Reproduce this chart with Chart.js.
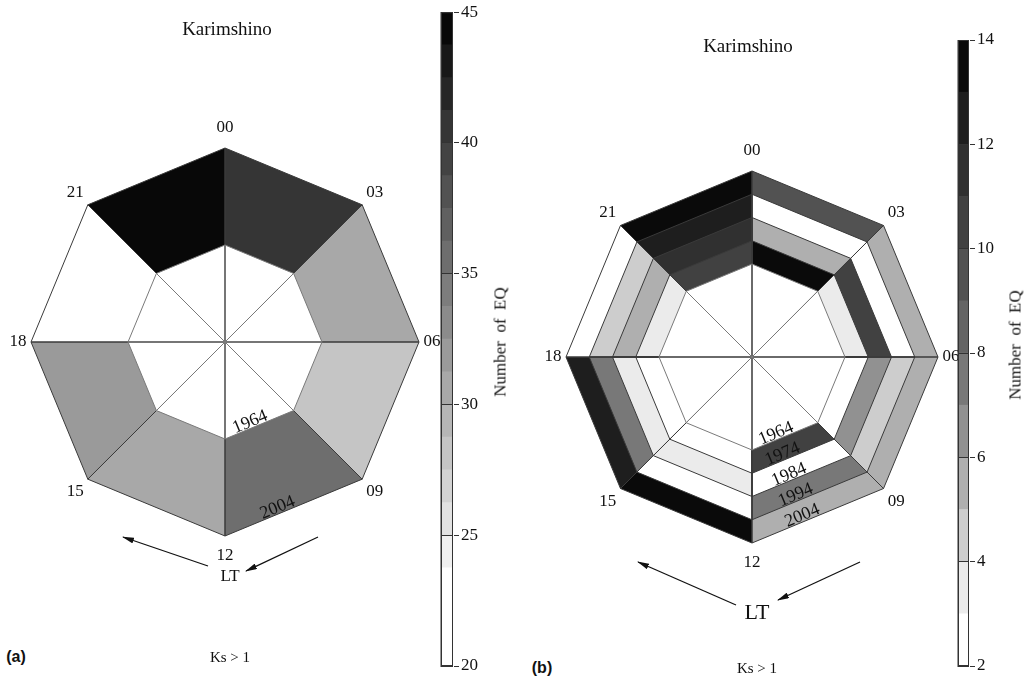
<!DOCTYPE html>
<html>
<head>
<meta charset="utf-8">
<script src="https://cdn.jsdelivr.net/npm/chart.js@4.4.0/dist/chart.umd.min.js"></script>
<style>
  body { margin: 0; background: #fff; }
  #page { position: relative; width: 1029px; height: 681px; overflow: hidden; font-family: "Liberation Serif", serif; color: #111; }
  #page canvas, #page svg, #page .lbl { position: absolute; }
  .lbl { white-space: pre; transform: translate(-50%, -50%); line-height: 1; }
  .side { transform: translate(-50%, -50%) rotate(-90deg); }
  .tag { font-family: "Liberation Sans", sans-serif; font-weight: bold; }
</style>
</head>
<body>
<div id="page">
  <canvas id="polarA" width="450" height="600" style="left:0;top:0"></canvas>
  <canvas id="polarB" width="460" height="600" style="left:520px;top:0"></canvas>
  <canvas id="barA" width="80" height="681" style="left:440px;top:0"></canvas>
  <canvas id="barB" width="70" height="681" style="left:957px;top:0"></canvas>

  <div class="lbl" style="left:227px;top:28px;font-size:19px">Karimshino</div>
  <div class="lbl" style="left:748px;top:45px;font-size:19px">Karimshino</div>
  <div class="lbl side" style="left:500px;top:342px;font-size:17px">Number  of  EQ</div>
  <div class="lbl side" style="left:1015px;top:345px;font-size:17px">Number  of  EQ</div>
  <div class="lbl" style="left:230px;top:575px;font-size:17px">LT</div>
  <div class="lbl" style="left:757px;top:612px;font-size:22px">LT</div>
  <div class="lbl" style="left:230px;top:657px;font-size:15px">Ks &gt; 1</div>
  <div class="lbl" style="left:757px;top:668px;font-size:15px">Ks &gt; 1</div>
  <div class="lbl tag" style="left:16px;top:657px;font-size:16px">(a)</div>
  <div class="lbl tag" style="left:542px;top:668px;font-size:16px">(b)</div>

  <svg width="1029" height="681" style="left:0;top:0" viewBox="0 0 1029 681">
    <defs>
      <marker id="head" viewBox="0 0 12 6" refX="11" refY="3" markerWidth="12" markerHeight="6" markerUnits="userSpaceOnUse" orient="auto">
        <path d="M0,0 L12,3 L0,6 Z" fill="#111"/>
      </marker>
    </defs>
    <g stroke="#111" stroke-width="1.3" marker-end="url(#head)">
      <line x1="208" y1="566" x2="123" y2="537"/>
      <line x1="318" y1="537" x2="246" y2="571"/>
      <line x1="736" y1="605" x2="638" y2="562"/>
      <line x1="860" y1="562" x2="778" y2="600"/>
    </g>
  </svg>
</div>

<script>
  // local time sectors, clockwise from the top
  const hours = ["00", "03", "06", "09", "12", "15", "18", "21"];
  const yearStart = 1924;   // value at the centre of the octagon

  // (a) one ring, 1964-2004; one count per sector 00-03, 03-06, ... 21-00
  const yearsA = [1964, 2004];
  const countsA = [40.6, 30.6, 28.1, 35.6, 30.6, 31.9, 21, 44.4];

  // (b) decade rings
  const yearsB = [1964, 1974, 1984, 1994, 2004];
  const counts1964 = [13.5, 3.5, 2.5, 10.5, 2.5, 2.5, 3.5, 10.5];
  const counts1974 = [5.5, 10.5, 6.5, 2.5, 3.5, 3.5, 5.5, 11.5];
  const counts1984 = [2.5, 2.5, 4.5, 7.5, 2.5, 7.5, 4.5, 12.5];
  const counts1994 = [9.5, 5.5, 5.5, 5.5, 13.5, 12.5, 2.5, 13.5];

  // colour bar levels and tick labels
  const levelsA = [20, 21.25, 22.5, 23.75, 25, 26.25, 27.5, 28.75, 30, 31.25, 32.5, 33.75, 35, 36.25, 37.5, 38.75, 40, 41.25, 42.5, 43.75, 45];
  const ticksA = [20, 25, 30, 35, 40, 45];
  const levelsB = [2, 3, 4, 5, 6, 7, 8, 9, 10, 11, 12, 13, 14];
  const ticksB = [2, 4, 6, 8, 10, 12, 14];

  // grey shade of each level (style only)
  const greysA = [255, 255, 255, 240, 226, 211, 197, 182, 168, 154, 139, 125, 110, 96, 82, 67, 53, 38, 24, 8];
  const greysB = [255, 235, 205, 175, 145, 120, 100, 82, 65, 48, 30, 10];

  const grey = g => `rgb(${g},${g},${g})`;

  function shadeOf(v, levels, greys) {
    let k = levels.findIndex((lo, i) => v >= lo && v < levels[i + 1]);
    if (k < 0) k = greys.length - 1;
    return grey(greys[k]);
  }

  // one wedge from the centre out to value r between spokes i and i+1
  function wedge(i, r, fillColor, lineColor) {
    return {
      data: hours.map((h, k) => (k === i || k === (i + 1) % hours.length) ? r : yearStart),
      fill: "origin",
      backgroundColor: fillColor,
      borderColor: lineColor,
      borderWidth: 1,
      pointRadius: 0,
      pointHitRadius: 0
    };
  }

  // inner rings first so they are painted over the outer ones
  function cellSets(years, rings, levels, greys) {
    const sets = hours.map((h, i) => wedge(i, years[0], "#fff", "#7a7a7a"));
    rings.forEach((counts, j) => {
      counts.forEach((v, i) => sets.push(wedge(i, years[j + 1], shadeOf(v, levels, greys), "#3a3a3a")));
    });
    return sets;
  }

  const ringLabels = {
    id: "ringLabels",
    afterDraw(chart, args, opts) {
      const s = chart.scales.r;
      const ctx = chart.ctx;
      ctx.save();
      ctx.fillStyle = "#111";
      ctx.textAlign = "center";
      ctx.textBaseline = "middle";
      ctx.font = opts.hourFont;
      hours.forEach((h, i) => {
        const a = Math.PI * i / 4;
        const p = s.getPointPosition(i, s.drawingArea + 13 + 7 * Math.abs(Math.cos(a)));
        ctx.fillText(h, p.x, p.y);
      });
      ctx.font = opts.yearFont;
      ctx.textBaseline = "bottom";
      opts.years.forEach(y => {
        const p0 = s.getPointPositionForValue(4, y);
        const p1 = s.getPointPositionForValue(3, y);
        ctx.save();
        ctx.translate(p0.x + (p1.x - p0.x) * 0.4, p0.y + (p1.y - p0.y) * 0.4);
        ctx.rotate(Math.atan2(p1.y - p0.y, p1.x - p0.x));
        ctx.fillText(String(y), 0, 3);
        ctx.restore();
      });
      ctx.restore();
    }
  };

  function octagon(id, years, rings, levels, greys, padding, fonts) {
    new Chart(document.getElementById(id), {
      type: "radar",
      data: { labels: hours, datasets: cellSets(years, rings, levels, greys) },
      options: {
        responsive: false,
        animation: false,
        layout: { padding },
        plugins: {
          legend: { display: false },
          tooltip: { enabled: false },
          filler: { drawTime: "beforeDatasetsDraw" },
          ringLabels: { years, hourFont: fonts.hour, yearFont: fonts.year }
        },
        scales: {
          r: {
            min: yearStart,
            max: years[years.length - 1],
            ticks: { display: false },
            pointLabels: { display: false },
            grid: { display: false },
            angleLines: { display: false }
          }
        }
      },
      plugins: [ringLabels]
    });
  }

  const frame = {
    id: "frame",
    afterDraw(chart) {
      const a = chart.chartArea, ctx = chart.ctx;
      ctx.save();
      ctx.strokeStyle = "#333";
      ctx.lineWidth = 1;
      ctx.strokeRect(a.left + 0.5, a.top + 0.5, a.width - 1, a.height - 1);
      ctx.restore();
    }
  };

  function colorBar(id, levels, greys, ticks, padding, axisWidth) {
    new Chart(document.getElementById(id), {
      type: "bar",
      data: {
        labels: [""],
        datasets: greys.map((g, k) => ({
          data: [[levels[k], levels[k + 1]]],
          backgroundColor: grey(g),
          borderWidth: 0,
          barPercentage: 1,
          categoryPercentage: 1,
          grouped: false
        }))
      },
      options: {
        responsive: false,
        animation: false,
        layout: { padding },
        plugins: { legend: { display: false }, tooltip: { enabled: false } },
        scales: {
          x: { display: false },
          y: {
            position: "right",
            min: ticks[0],
            max: ticks[ticks.length - 1],
            afterBuildTicks: s => { s.ticks = ticks.map(v => ({ value: v })); },
            afterFit: s => { s.width = axisWidth; },
            ticks: { color: "#111", font: { family: "Liberation Serif", size: 17 }, padding: 2 },
            grid: { color: "#333", tickLength: 6, z: 1 },
            border: { display: true, color: "#333" }
          }
        }
      },
      plugins: [frame]
    });
  }

  const fonts = { hour: '17px "Liberation Serif"', year: '18px "Liberation Serif"' };

  octagon("polarA", yearsA, [countsA], levelsA, greysA, { left: 31, top: 148, right: 31, bottom: 64 }, fonts);
  octagon("polarB", yearsB, [counts1964, counts1974, counts1984, counts1994], levelsB, greysB, { left: 46, top: 171, right: 42, bottom: 57 }, fonts);
  colorBar("barA", levelsA, greysA, ticksA, { left: 1, top: 12, right: 27, bottom: 15 }, 40);
  colorBar("barB", levelsB, greysB, ticksB, { left: 1, top: 40, right: 28, bottom: 15 }, 30);
</script>
</body>
</html>
